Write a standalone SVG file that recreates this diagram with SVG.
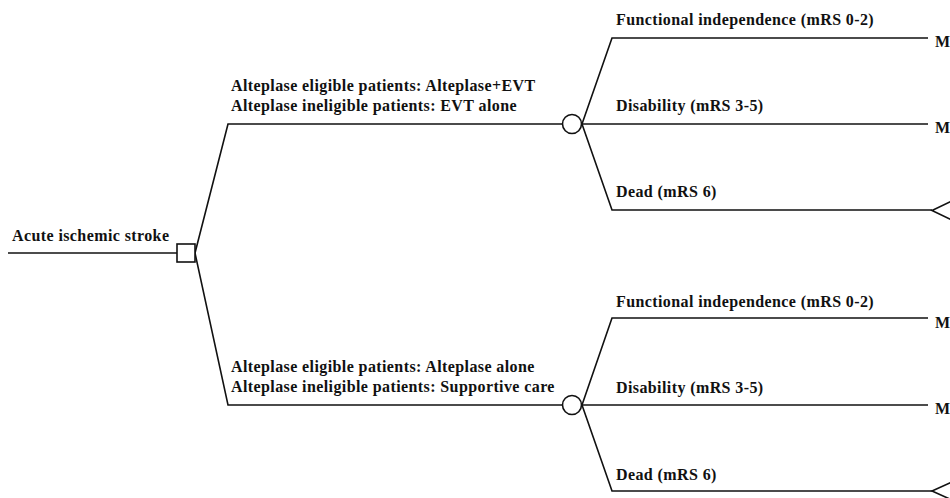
<svg xmlns="http://www.w3.org/2000/svg" width="950" height="498" viewBox="0 0 950 498">
<style>
text{font-family:"Liberation Serif","Times New Roman",serif;font-weight:bold;font-size:16px;letter-spacing:0.4px;fill:#111}
.ln{fill:none;stroke:#111;stroke-width:1.6}
.nd{fill:#fff;stroke:#111;stroke-width:1.6}
</style>
<rect width="950" height="498" fill="#fff"/>
<g id="connectors">
<path class="ln" d="M8,253 H177"/>
<path class="ln" d="M195,253 L228,124 H563"/>
<path class="ln" d="M195,253 L228,405 H563"/>
<path class="ln" d="M582,124 L612,38 H928"/>
<path class="ln" d="M582,124 H928"/>
<path class="ln" d="M582,124 L612,210 H932"/>
<path class="ln" d="M582,405 L612,318 H928"/>
<path class="ln" d="M582,405 H928"/>
<path class="ln" d="M582,405 L612,491 H932"/>
</g>
<g id="root">
<text x="12" y="241">Acute ischemic stroke</text>
<rect class="nd" x="177" y="244" width="18" height="18"/>
</g>
<g id="chance-top">
<text x="231" y="91">Alteplase eligible patients: Alteplase+EVT</text>
<text x="231" y="111">Alteplase ineligible patients: EVT alone</text>
<circle class="nd" cx="572" cy="124" r="9.5"/>
</g>
<g id="chance-bottom">
<text x="231" y="372">Alteplase eligible patients: Alteplase alone</text>
<text x="231" y="392">Alteplase ineligible patients: Supportive care</text>
<circle class="nd" cx="572" cy="405" r="9.5"/>
</g>
<g id="top-outcomes">
<text x="616" y="25">Functional independence (mRS 0-2)</text>
<text x="935" y="47">M</text>
<text x="616" y="111">Disability (mRS 3-5)</text>
<text x="935" y="133">M</text>
<text x="616" y="197">Dead (mRS 6)</text>
<path class="nd" d="M952,201 L932,210.5 L952,220"/>
</g>
<g id="bottom-outcomes">
<text x="616" y="307">Functional independence (mRS 0-2)</text>
<text x="935" y="328">M</text>
<text x="616" y="393">Disability (mRS 3-5)</text>
<text x="935" y="414">M</text>
<text x="616" y="480">Dead (mRS 6)</text>
<path class="nd" d="M952,482 L932,491 L952,500"/>
</g>
</svg>
